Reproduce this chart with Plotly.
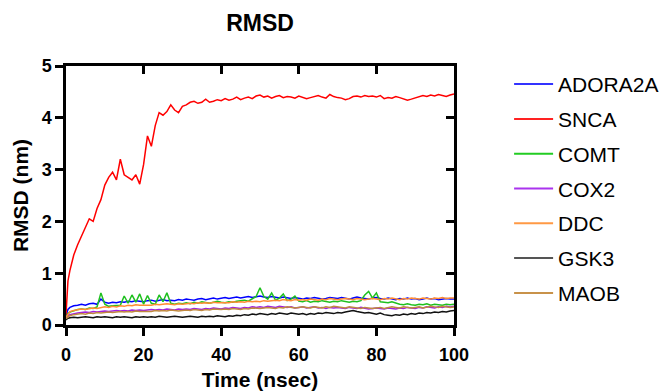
import plotly.graph_objects as go

# Time grid (ns)
time_ns = [0, 0.5] + list(range(1, 101))

names = ["ADORA2A", "SNCA", "COMT", "COX2", "DDC", "GSK3", "MAOB"]
colors = ["#0000FF", "#FF0000", "#1FC01F", "#A020E0", "#FF8C33", "#111111", "#C08A40"]
legend_colors = ["#3333FF", "#FF2222", "#22CC22", "#AA33EE", "#FF9944", "#555555", "#C8924A"]

adora2a = [0.18, 0.30, 0.34,
           0.37, 0.38, 0.40, 0.38, 0.41, 0.42, 0.40, 0.50,
           0.44, 0.42, 0.44, 0.43, 0.45, 0.44, 0.46, 0.45, 0.47, 0.46,
           0.45, 0.47, 0.48, 0.46, 0.47, 0.49, 0.47, 0.48, 0.47, 0.49,
           0.48, 0.50, 0.49, 0.48, 0.50, 0.51, 0.49, 0.50, 0.52, 0.50,
           0.51, 0.53, 0.51, 0.52, 0.54, 0.52, 0.53, 0.55, 0.53, 0.54,
           0.56, 0.54, 0.53, 0.55, 0.53, 0.52, 0.54, 0.52, 0.51, 0.53,
           0.52, 0.50, 0.52, 0.51, 0.53, 0.52, 0.50, 0.51, 0.53, 0.52,
           0.51, 0.53, 0.52, 0.50, 0.52, 0.54, 0.52, 0.51, 0.50, 0.52,
           0.53, 0.51, 0.50, 0.52, 0.51, 0.49, 0.51, 0.50, 0.52, 0.50,
           0.51, 0.49, 0.50, 0.52, 0.50, 0.51, 0.49, 0.50, 0.51, 0.50,
           0.50]

snca = [0.20, 0.85, 1.05,
        1.35, 1.55, 1.72, 1.90, 2.05, 2.00, 2.25, 2.42,
        2.70, 2.85, 2.95, 2.80, 3.20, 2.90, 2.85, 2.80, 2.90, 2.72,
        3.10, 3.65, 3.45, 3.85, 4.10, 4.05, 4.12, 4.25, 4.15, 4.10,
        4.22, 4.25, 4.30, 4.32, 4.28, 4.30, 4.36, 4.30, 4.32, 4.35,
        4.33, 4.37, 4.34, 4.36, 4.40, 4.35, 4.38, 4.40, 4.37, 4.42,
        4.44, 4.40, 4.42, 4.38, 4.41, 4.43, 4.39, 4.41, 4.40, 4.38,
        4.42, 4.40, 4.37, 4.39, 4.41, 4.43, 4.40, 4.38, 4.45, 4.41,
        4.39, 4.38, 4.35, 4.37, 4.41, 4.42, 4.40, 4.43, 4.41, 4.42,
        4.40, 4.43, 4.37, 4.39, 4.38, 4.41, 4.39, 4.37, 4.34, 4.36,
        4.38, 4.41, 4.43, 4.41, 4.44, 4.42, 4.45, 4.43, 4.41, 4.44,
        4.46]

comt = [0.15, 0.22, 0.25,
        0.28, 0.30, 0.31, 0.30, 0.33, 0.32, 0.35, 0.62,
        0.40, 0.36, 0.37, 0.38, 0.38, 0.56, 0.42, 0.58, 0.44, 0.60,
        0.40, 0.57, 0.42, 0.40, 0.58, 0.45, 0.62, 0.42, 0.40, 0.42,
        0.41, 0.43, 0.41, 0.44, 0.42, 0.45, 0.43, 0.42, 0.44, 0.46,
        0.44, 0.43, 0.45, 0.44, 0.46, 0.47, 0.48, 0.46, 0.50, 0.55,
        0.72, 0.55, 0.50, 0.62, 0.48, 0.52, 0.60, 0.47, 0.50, 0.56,
        0.46, 0.45, 0.47, 0.44, 0.46, 0.45, 0.47, 0.46, 0.44, 0.46,
        0.45, 0.47, 0.46, 0.44, 0.46, 0.45, 0.47, 0.58, 0.65, 0.52,
        0.62, 0.45, 0.44, 0.43, 0.45, 0.42, 0.40, 0.39, 0.41, 0.39,
        0.38, 0.40, 0.39, 0.41, 0.38, 0.40, 0.39, 0.38, 0.40, 0.39,
        0.40]

cox2 = [0.12, 0.18, 0.20,
        0.22, 0.23, 0.24, 0.25, 0.24, 0.26, 0.25, 0.26,
        0.27, 0.26, 0.27, 0.28, 0.27, 0.28, 0.27, 0.29, 0.28, 0.29,
        0.28, 0.29, 0.30, 0.29, 0.30, 0.29, 0.31, 0.30, 0.29, 0.31,
        0.30, 0.31, 0.30, 0.32, 0.31, 0.30, 0.32, 0.31, 0.33, 0.32,
        0.31, 0.33, 0.32, 0.34, 0.33, 0.32, 0.34, 0.33, 0.35, 0.34,
        0.35, 0.34, 0.36, 0.35, 0.34, 0.36, 0.35, 0.34, 0.35, 0.33,
        0.34, 0.35, 0.33, 0.34, 0.35, 0.33, 0.34, 0.32, 0.34, 0.33,
        0.34, 0.33, 0.32, 0.34, 0.33, 0.32, 0.34, 0.33, 0.31, 0.32,
        0.33, 0.32, 0.31, 0.33, 0.32, 0.31, 0.33, 0.32, 0.34, 0.33,
        0.32, 0.34, 0.33, 0.35, 0.34, 0.33, 0.35, 0.34, 0.36, 0.35,
        0.36]

ddc = [0.15, 0.22, 0.26,
       0.28, 0.29, 0.31, 0.30, 0.32, 0.33, 0.32, 0.34,
       0.35, 0.34, 0.36, 0.35, 0.37, 0.36, 0.38, 0.37, 0.39, 0.38,
       0.38, 0.39, 0.38, 0.40, 0.39, 0.40, 0.41, 0.40, 0.39, 0.41,
       0.40, 0.41, 0.42, 0.41, 0.43, 0.42, 0.43, 0.42, 0.44, 0.43,
       0.43, 0.44, 0.43, 0.45, 0.44, 0.45, 0.44, 0.46, 0.45, 0.46,
       0.45, 0.47, 0.46, 0.47, 0.48, 0.47, 0.49, 0.48, 0.47, 0.49,
       0.48, 0.49, 0.48, 0.50, 0.49, 0.48, 0.50, 0.49, 0.51, 0.50,
       0.49, 0.50, 0.51, 0.50, 0.49, 0.51, 0.50, 0.49, 0.50, 0.51,
       0.50, 0.49, 0.51, 0.50, 0.52, 0.50, 0.49, 0.51, 0.50, 0.52,
       0.51, 0.50, 0.52, 0.51, 0.50, 0.52, 0.51, 0.53, 0.51, 0.52,
       0.52]

gsk3 = [0.10, 0.13, 0.14,
        0.15, 0.14, 0.15, 0.16, 0.15, 0.14, 0.16, 0.15,
        0.16, 0.15, 0.14, 0.16, 0.15, 0.16, 0.15, 0.14, 0.16, 0.15,
        0.16, 0.15, 0.16, 0.15, 0.17, 0.16, 0.15, 0.16, 0.17, 0.16,
        0.15, 0.16, 0.17, 0.16, 0.15, 0.17, 0.16, 0.17, 0.16, 0.18,
        0.17, 0.16, 0.18, 0.17, 0.19, 0.18, 0.20, 0.19, 0.21, 0.20,
        0.22, 0.21, 0.20, 0.22, 0.21, 0.23, 0.22, 0.21, 0.23, 0.22,
        0.21, 0.22, 0.20, 0.22, 0.21, 0.23, 0.22, 0.24, 0.23, 0.22,
        0.24, 0.23, 0.25, 0.27, 0.28, 0.26, 0.25, 0.23, 0.24, 0.22,
        0.21, 0.23, 0.20, 0.19, 0.18, 0.20, 0.19, 0.21, 0.20, 0.22,
        0.21, 0.23, 0.22, 0.24, 0.23, 0.25, 0.24, 0.26, 0.25, 0.27,
        0.28]

maob = [0.12, 0.16, 0.18,
        0.20, 0.21, 0.22, 0.21, 0.23, 0.22, 0.24, 0.23,
        0.24, 0.25, 0.24, 0.25, 0.26, 0.25, 0.26, 0.25, 0.27, 0.26,
        0.26, 0.27, 0.26, 0.28, 0.27, 0.28, 0.27, 0.29, 0.28, 0.27,
        0.28, 0.29, 0.28, 0.30, 0.29, 0.28, 0.30, 0.29, 0.31, 0.30,
        0.30, 0.31, 0.30, 0.32, 0.31, 0.30, 0.32, 0.31, 0.33, 0.32,
        0.32, 0.33, 0.34, 0.33, 0.32, 0.34, 0.33, 0.35, 0.34, 0.33,
        0.34, 0.35, 0.34, 0.33, 0.35, 0.34, 0.33, 0.35, 0.34, 0.36,
        0.35, 0.34, 0.33, 0.35, 0.34, 0.33, 0.32, 0.34, 0.33, 0.32,
        0.33, 0.34, 0.32, 0.33, 0.35, 0.34, 0.33, 0.35, 0.34, 0.33,
        0.34, 0.35, 0.33, 0.34, 0.36, 0.35, 0.34, 0.36, 0.35, 0.34,
        0.35]

series = [adora2a, snca, comt, cox2, ddc, gsk3, maob]

x_ticks = [0, 20, 40, 60, 80, 100]
y_ticks = [0, 1, 2, 3, 4, 5]

FONT = "Liberation Sans, Arial, sans-serif"

fig = go.Figure()

for i, (nm, ys) in enumerate(zip(names, series)):
    fig.add_trace(go.Scatter(
        x=time_ns, y=ys, mode="lines", name=nm,
        line=dict(color=colors[i], width=1.5),
        legendgroup=nm, showlegend=False))
# legend-only entries
for i, nm in enumerate(names):
    fig.add_trace(go.Scatter(
        x=[None], y=[None], mode="lines", name=nm,
        line=dict(color=legend_colors[i], width=2),
        legendgroup=nm, showlegend=True))

# empty trace on mirror axes (top/right inward ticks)
fig.add_trace(go.Scatter(x=[None], y=[None], xaxis="x2", yaxis="y2",
                         showlegend=False, hoverinfo="skip"))

axis_common = dict(showline=True, linecolor="black", linewidth=2.5,
                   showgrid=False, zeroline=False, ticklen=8, tickwidth=2.5,
                   tickcolor="black", automargin=False)

fig.update_layout(
    width=659, height=391,
    margin=dict(l=66, r=205, t=66, b=66, autoexpand=False),
    paper_bgcolor="white", plot_bgcolor="white",
    title=dict(text="<b>RMSD</b>", x=0.5, xref="paper", y=1 - 23 / 391,
               yref="container", xanchor="center", yanchor="middle",
               font=dict(family=FONT, size=23, color="black")),
    xaxis=dict(range=[0, 100], tickvals=x_ticks, ticks="outside",
               ticklabelstandoff=4,
               tickfont=dict(family=FONT, size=18, color="black", weight="bold"),
               title=dict(text="Time (nsec)", standoff=12,
                          font=dict(family=FONT, size=21, color="black", weight="bold")),
               **axis_common),
    yaxis=dict(range=[0, 5], tickvals=y_ticks, ticks="outside",
               ticklabelstandoff=0,
               tickfont=dict(family=FONT, size=18, color="black", weight="bold"),
               title=dict(text="RMSD (nm)", standoff=8,
                          font=dict(family=FONT, size=21, color="black", weight="bold")),
               **axis_common),
    xaxis2=dict(range=[0, 100], tickvals=x_ticks, ticks="inside", side="top",
                overlaying="x", showticklabels=False, **axis_common),
    yaxis2=dict(range=[0, 5], tickvals=y_ticks, ticks="inside", side="right",
                overlaying="y", showticklabels=False, **axis_common),
    legend=dict(x=1.142, y=1.008, xanchor="left", yanchor="top",
                traceorder="grouped", tracegroupgap=4.5, itemwidth=39,
                maxheight=1.0,
                font=dict(family=FONT, size=21, color="black"),
                bgcolor="rgba(0,0,0,0)"),
    showlegend=True,
)

fig.write_html("out.html", config={"displayModeBar": False},
               post_script="document.body.style.margin='0';document.body.style.overflow='hidden';")
